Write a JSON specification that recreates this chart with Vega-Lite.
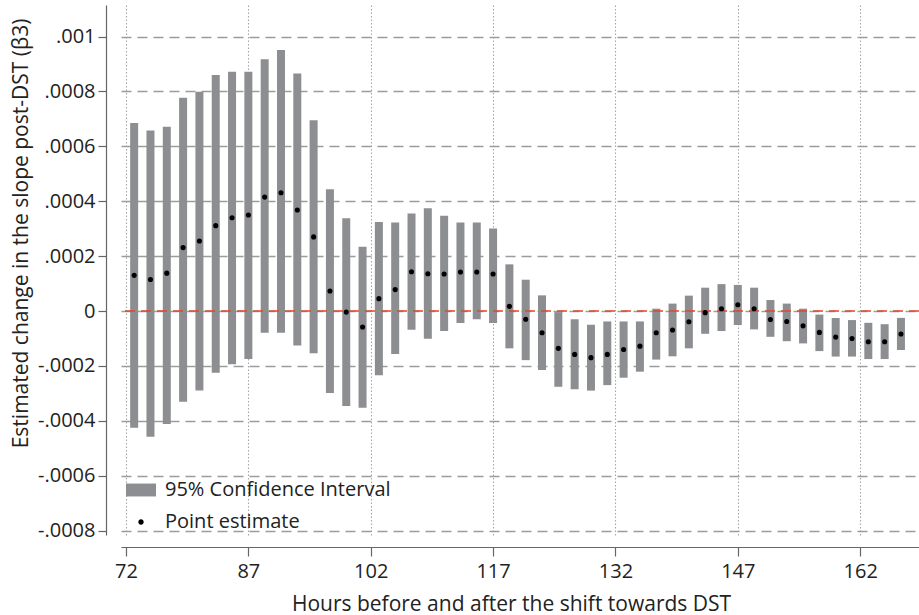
{
  "$schema": "https://vega.github.io/schema/vega-lite/v6.json",
  "width": 798,
  "height": 530,
  "autosize": {"type": "none"},
  "padding": {"left": 121, "top": 5, "right": 0, "bottom": 80},
  "background": "white",
  "config": {
    "view": {"stroke": null},
    "font": "Open Sans",
    "axis": {
      "labelFont": "Open Sans",
      "titleFont": "Open Sans",
      "labelColor": "#222222",
      "titleColor": "#222222",
      "titleFontWeight": "normal",
      "domainColor": "#666666",
      "tickColor": "#666666",
      "domainWidth": 1.2,
      "tickWidth": 1.2
    }
  },
  "data": {
    "values": [
      {"hour": 73, "lo": -0.000425, "hi": 0.000685, "est": 0.00013},
      {"hour": 75, "lo": -0.000458, "hi": 0.000658, "est": 0.000115},
      {"hour": 77, "lo": -0.000412, "hi": 0.000671, "est": 0.000138},
      {"hour": 79, "lo": -0.000331, "hi": 0.000777, "est": 0.000231},
      {"hour": 81, "lo": -0.00029, "hi": 0.000799, "est": 0.000255},
      {"hour": 83, "lo": -0.000225, "hi": 0.00086, "est": 0.000311},
      {"hour": 85, "lo": -0.000194, "hi": 0.000872, "est": 0.00034},
      {"hour": 87, "lo": -0.000175, "hi": 0.000872, "est": 0.00035},
      {"hour": 89, "lo": -0.000079, "hi": 0.000917, "est": 0.000415},
      {"hour": 91, "lo": -0.000079, "hi": 0.000951, "est": 0.000431},
      {"hour": 93, "lo": -0.000126, "hi": 0.000865, "est": 0.000368},
      {"hour": 95, "lo": -0.000154, "hi": 0.000695, "est": 0.00027},
      {"hour": 97, "lo": -0.000299, "hi": 0.000444, "est": 0.000073},
      {"hour": 99, "lo": -0.000346, "hi": 0.000338, "est": -0.000004},
      {"hour": 101, "lo": -0.000352, "hi": 0.000234, "est": -0.000058},
      {"hour": 103, "lo": -0.000234, "hi": 0.000324, "est": 0.000045},
      {"hour": 105, "lo": -0.000157, "hi": 0.000322, "est": 0.000078},
      {"hour": 107, "lo": -0.000068, "hi": 0.000355, "est": 0.000143},
      {"hour": 109, "lo": -0.000101, "hi": 0.000374, "est": 0.000136},
      {"hour": 111, "lo": -0.000073, "hi": 0.000347, "est": 0.000135},
      {"hour": 113, "lo": -0.000044, "hi": 0.000322, "est": 0.000142},
      {"hour": 115, "lo": -0.00003, "hi": 0.000322, "est": 0.000142},
      {"hour": 117, "lo": -0.000044, "hi": 0.000301, "est": 0.000135},
      {"hour": 119, "lo": -0.000136, "hi": 0.00017, "est": 0.000017},
      {"hour": 121, "lo": -0.000179, "hi": 0.000114, "est": -0.00003},
      {"hour": 123, "lo": -0.000215, "hi": 0.000057, "est": -0.000079},
      {"hour": 125, "lo": -0.000276, "hi": -0.000004, "est": -0.000136},
      {"hour": 127, "lo": -0.000285, "hi": -0.00003, "est": -0.000158},
      {"hour": 129, "lo": -0.00029, "hi": -0.00005, "est": -0.00017},
      {"hour": 131, "lo": -0.00027, "hi": -0.000038, "est": -0.000158},
      {"hour": 133, "lo": -0.000243, "hi": -0.000038, "est": -0.00014},
      {"hour": 135, "lo": -0.000221, "hi": -0.000038, "est": -0.000128},
      {"hour": 137, "lo": -0.000177, "hi": 0.0000085, "est": -0.000079},
      {"hour": 139, "lo": -0.000165, "hi": 0.000027, "est": -0.000069},
      {"hour": 141, "lo": -0.000136, "hi": 0.000056, "est": -0.000039},
      {"hour": 143, "lo": -0.000083, "hi": 0.000085, "est": -0.000006},
      {"hour": 145, "lo": -0.000073, "hi": 0.000098, "est": 0.0000085},
      {"hour": 147, "lo": -0.000051, "hi": 0.000095, "est": 0.000023},
      {"hour": 149, "lo": -0.000067, "hi": 0.000085, "est": 0.0000085},
      {"hour": 151, "lo": -0.000094, "hi": 0.00004, "est": -0.000031},
      {"hour": 153, "lo": -0.00011, "hi": 0.000027, "est": -0.000038},
      {"hour": 155, "lo": -0.000118, "hi": 0.0000085, "est": -0.000054},
      {"hour": 157, "lo": -0.000146, "hi": -0.000013, "est": -0.000078},
      {"hour": 159, "lo": -0.000166, "hi": -0.0000255, "est": -0.000095},
      {"hour": 161, "lo": -0.000166, "hi": -0.000033, "est": -0.0001},
      {"hour": 163, "lo": -0.000175, "hi": -0.000043, "est": -0.000112},
      {"hour": 165, "lo": -0.000175, "hi": -0.000048, "est": -0.000112},
      {"hour": 167, "lo": -0.000142, "hi": -0.000025, "est": -0.000084}
    ]
  },
  "layer": [
    {
      "mark": {"type": "bar", "width": 8, "opacity": 1},
      "encoding": {
        "x": {
          "field": "hour",
          "type": "quantitative",
          "scale": {"domain": [72, 168.6], "nice": false, "zero": false},
          "axis": {
            "values": [72, 87, 102, 117, 132, 147, 162],
            "format": "d",
            "offset": 12,
            "tickSize": 9,
            "labelFontSize": 20,
            "labelPadding": 5,
            "grid": true,
            "gridDash": [1.5, 2],
            "gridColor": "#a6a6a6",
            "gridWidth": 1.1,
            "title": "Hours before and after the shift towards DST",
            "titleFontSize": 21,
            "titleX": 390,
            "titleAnchor": "middle",
            "titlePadding": 12
          }
        },
        "y": {
          "field": "lo",
          "type": "quantitative",
          "scale": {"domain": [-0.000816, 0.0011148], "nice": false, "zero": false},
          "axis": {
            "values": [-0.0008, -0.0006, -0.0004, -0.0002, 0, 0.0002, 0.0004, 0.0006, 0.0008, 0.001],
            "labelExpr": "datum.value == 0 ? '0' : (datum.value < 0 ? '-' : '') + replace(format(abs(datum.value), '.4~f'), '0.', '.')",
            "offset": 15,
            "tickSize": 8,
            "labelFontSize": 20,
            "labelPadding": 3,
            "grid": true,
            "gridDash": [10, 6],
            "gridColor": "#9c9c9c",
            "gridWidth": 1.3,
            "title": "Estimated change in the slope post-DST (β3)",
            "titleFontSize": 21,
            "titleY": 228,
            "titlePadding": 6
          }
        },
        "y2": {"field": "hi"},
        "color": {
          "datum": "95% Confidence Interval",
          "scale": {
            "domain": ["95% Confidence Interval", "Point estimate"],
            "range": ["#8d8e91", "#000000"]
          },
          "legend": {
            "title": null,
            "orient": "none",
            "legendX": 5,
            "legendY": 470,
            "padding": 0,
            "rowPadding": 7,
            "symbolSize": 900,
            "symbolType": "M-1,-0.43H1V0.43H-1Z",
            "symbolStrokeWidth": 0,
            "symbolOpacity": 1,
            "labelFont": "Open Sans",
            "labelFontSize": 20,
            "labelColor": "#222222",
            "labelOffset": 9,
            "labelLimit": 0,
            "encode": {
              "symbols": {
                "update": {
                  "shape": {"signal": "datum.value === 'Point estimate' ? 'M0.18,0A0.18,0.18,0,1,1,-0.18,0A0.18,0.18,0,1,1,0.18,0Z' : 'M-1,-0.43H1V0.43H-1Z'"}
                }
              }
            }
          }
        }
      }
    },
    {
      "data": {"values": [{}]},
      "mark": {"type": "rule", "color": "#e2452f", "strokeDash": [10, 6], "strokeWidth": 1.3},
      "encoding": {"y": {"datum": 0}}
    },
    {
      "mark": {"type": "point", "filled": true, "size": 26, "opacity": 1},
      "encoding": {
        "x": {"field": "hour", "type": "quantitative"},
        "y": {"field": "est", "type": "quantitative"},
        "color": {"datum": "Point estimate"}
      }
    }
  ]
}
